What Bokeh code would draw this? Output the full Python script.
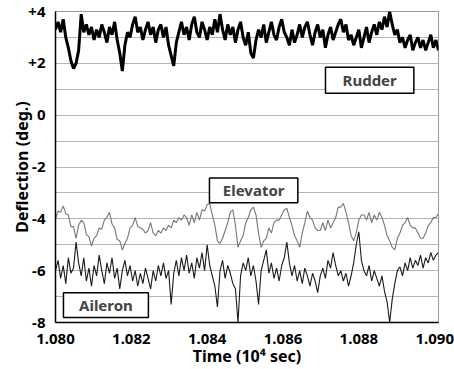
import numpy as np
from bokeh.plotting import figure
from bokeh.models import FixedTicker, NumeralTickFormatter, Label, BoxAnnotation, Range1d
from bokeh.embed import file_html
from bokeh.resources import INLINE

t_start = 1.080
t_end = 1.0901

rudder = [
    3.3, 3.6, 3.2, 3.7, 3.0, 2.6, 2.1, 1.8, 2.0, 2.5,
    3.9, 3.2, 3.5, 3.1, 3.4, 2.9, 3.3, 3.0, 3.5, 3.2,
    2.8, 3.4, 3.1, 3.6, 2.9, 2.4, 1.7, 2.7, 3.2, 3.0,
    3.5, 3.8, 3.2, 3.4, 2.9, 3.3, 3.6, 3.1, 3.4, 2.8,
    3.3, 3.5, 3.0, 3.4, 2.7, 2.3, 1.9, 2.8, 3.2, 3.6,
    3.1, 3.4, 2.9, 3.5, 3.8, 3.2, 3.0, 3.6, 3.3, 2.9,
    3.4, 3.1, 3.7, 3.2, 3.9, 3.3, 2.9, 3.5, 3.1, 3.4,
    2.8, 3.3, 3.6, 3.0, 2.7, 3.2, 2.4, 2.2, 2.9, 3.3,
    3.0, 3.5, 2.8, 3.2, 3.6, 3.1, 2.9, 3.4, 3.7, 3.2,
    3.0, 2.7, 3.3, 2.8, 3.1, 3.5, 3.0, 3.4, 3.6, 3.1,
    2.7, 3.2, 3.5, 3.0, 3.3, 2.6, 3.1, 3.4, 2.9, 3.2,
    3.5, 3.7, 3.2, 3.5, 2.9, 3.1, 2.7, 3.0, 3.3, 2.6,
    3.0, 3.4, 2.8, 3.2, 3.5, 3.1, 3.6, 3.3, 3.8, 3.4,
    4.0, 3.5, 3.1, 3.3, 2.8, 3.0, 2.6, 2.9, 3.1, 2.5,
    2.8, 3.0, 2.6, 2.9, 2.5, 2.8, 3.1, 2.6, 2.9, 2.5,
]

elevator = [
    -4.0, -3.7, -3.75, -3.5, -3.8, -3.85, -4.3, -4.3, -4.75, -4.25,
    -4.05, -4.15, -4.6, -4.7, -5.05, -4.75, -4.65, -4.35, -4.4, -4.05,
    -3.95, -3.75, -4.2, -4.35, -4.8, -4.85, -5.2, -4.95, -4.75, -4.35,
    -4.25, -3.95, -4.3, -4.35, -4.4, -4.55, -4.45, -4.15, -4.55, -4.65,
    -4.45, -4.55, -4.35, -4.45, -4.25, -4.35, -4.05, -4.15, -3.95, -4.05,
    -3.85, -3.95, -4.25, -3.85, -4.15, -3.75, -4.05, -3.65, -3.7, -3.45,
    -3.4, -3.85, -4.25, -4.85, -4.95, -4.75, -4.45, -4.15, -3.75, -3.65,
    -4.25, -5.1, -4.85, -4.65, -4.15, -3.95, -3.65, -3.55, -3.85, -4.55,
    -5.1, -4.85, -4.75, -4.35, -4.55, -4.15, -4.05, -4.05, -3.85, -3.65,
    -3.6, -3.95, -4.25, -4.65, -4.85, -5.1, -4.55, -4.15, -3.7, -3.95,
    -4.05, -4.35, -4.45, -4.45, -4.15, -4.45, -4.05, -4.35, -4.15, -3.95,
    -3.55, -3.55, -3.4, -3.75, -4.15, -4.65, -4.85, -4.55, -4.05, -3.85,
    -3.85, -4.05, -3.75, -4.15, -3.85, -4.05, -3.75, -3.95, -4.25, -4.65,
    -4.85, -5.1, -5.2, -4.75, -4.55, -4.25, -4.15, -3.95, -4.25, -4.35,
    -4.35, -4.55, -4.75, -4.75, -4.55, -4.25, -4.15, -3.95, -3.95, -3.8,
]

aileron = [
    -6.0, -5.6, -6.3, -5.8, -6.5, -5.5, -6.1, -5.9, -4.9, -5.7,
    -6.2, -5.5, -6.4, -5.9, -6.6, -5.8, -6.2, -5.4, -6.0, -6.5,
    -5.7, -6.1, -5.5, -6.3, -5.9, -6.7, -6.0, -5.6, -6.2, -5.8,
    -6.4, -6.0, -6.6, -6.1, -6.5, -5.9, -6.3, -6.7, -6.0, -6.4,
    -5.8, -6.2, -5.7, -6.3, -6.0, -7.3, -6.1, -5.6, -6.2, -5.5,
    -6.0, -5.4, -6.1, -5.7, -6.3, -5.5, -5.9, -5.3, -6.0, -5.0,
    -5.8, -6.2, -6.6, -7.4, -6.0, -5.6, -6.3, -5.8, -6.1, -6.5,
    -6.7, -8.0, -6.2, -5.7, -6.0, -5.5, -6.2, -5.8, -6.4, -7.3,
    -6.0, -5.6, -5.2, -6.1, -5.7, -6.3, -5.9, -6.4, -5.8, -5.5,
    -4.9, -5.7, -6.2, -5.8, -6.4, -6.0, -6.5, -5.9, -6.2, -6.6,
    -6.1, -6.4, -6.85, -6.2, -5.9, -6.3, -5.6, -5.9, -5.3, -5.8,
    -6.2, -6.0, -6.4, -6.1, -6.6, -6.2, -5.7, -5.0, -4.5, -5.6,
    -6.0, -6.2, -5.8, -6.4, -6.0, -6.3, -6.6, -6.2, -6.8, -7.2,
    -8.0, -7.1, -6.5, -6.0, -5.85, -6.2, -5.7, -6.0, -5.5, -5.9,
    -5.6, -5.8, -5.4, -5.9, -5.5, -5.7, -5.3, -5.6, -5.4, -5.3,
]

time = np.linspace(t_start, t_end, len(rudder))

y_ticks = [-8, -6, -4, -2, 0, 2, 4]
y_tick_labels = ["-8", "-6", "-4", "-2", "0", "+2", "+4"]
x_ticks = [1.080, 1.082, 1.084, 1.086, 1.088, 1.090]

FONT = "Noto Sans"

p = figure(width=454, height=369, output_backend="svg", toolbar_location=None,
           x_range=Range1d(t_start, t_end), y_range=Range1d(-8, 4),
           min_border_left=55, min_border_right=16, min_border_top=11, min_border_bottom=46)

p.outline_line_color = "#9a9a9a"
p.outline_line_width = 1
p.background_fill_color = "white"
p.border_fill_color = "white"

p.xgrid.grid_line_color = None
p.ygrid.ticker = FixedTicker(ticks=list(range(-8, 5)))
p.ygrid.grid_line_color = "#b4b4b4"
p.ygrid.grid_line_width = 1

p.yaxis.ticker = FixedTicker(ticks=y_ticks)
p.yaxis.major_label_overrides = {v: s for v, s in zip(y_ticks, y_tick_labels)}
p.xaxis.ticker = FixedTicker(ticks=x_ticks)
p.xaxis.formatter = NumeralTickFormatter(format="0.000")

for ax in (p.xaxis[0], p.yaxis[0]):
    ax.axis_line_color = "black"
    ax.axis_line_width = 1.5
    ax.major_tick_line_color = None
    ax.minor_tick_line_color = None
    ax.major_label_text_font = FONT
    ax.major_label_text_font_style = "bold"
    ax.major_label_text_font_size = "15px"
    ax.major_label_text_color = "black"
    ax.axis_label_text_font = FONT
    ax.axis_label_text_font_style = "bold"
    ax.axis_label_text_color = "black"

p.yaxis.major_label_standoff = 4
p.yaxis.axis_label = "Deflection (deg.)"
p.yaxis.axis_label_text_font_size = "16px"
p.yaxis.axis_label_standoff = -8

p.xaxis.major_label_standoff = 5
p.xaxis.axis_label = "Time (10\u2074 sec)"
p.xaxis.axis_label_text_font_size = "16px"
p.xaxis.axis_label_standoff = -2

p.line(time, rudder, line_color="black", line_width=3)
p.line(time, elevator, line_color="#767676", line_width=1.1)
p.line(time, aileron, line_color="#1a1a1a", line_width=1.1)

boxes = [
    ("Rudder", 1.08712, 1.08945, 0.85, 1.85),
    ("Elevator", 1.08406, 1.08639, -3.38, -2.42),
    ("Aileron", 1.08021, 1.08245, -7.81, -6.85),
]
for name, l, r, b, tp in boxes:
    p.add_layout(BoxAnnotation(left=l, right=r, bottom=b, top=tp, fill_color="white",
                               fill_alpha=1.0, line_color="black", line_alpha=1.0,
                               line_width=1.5, level="overlay"))
    p.add_layout(Label(x=(l + r) / 2, y=(b + tp) / 2, text=name, text_font=FONT,
                       text_font_style="bold", text_font_size="15px", text_align="center",
                       text_baseline="middle", level="overlay"))

open("out.html", "w").write(file_html(p, INLINE))
